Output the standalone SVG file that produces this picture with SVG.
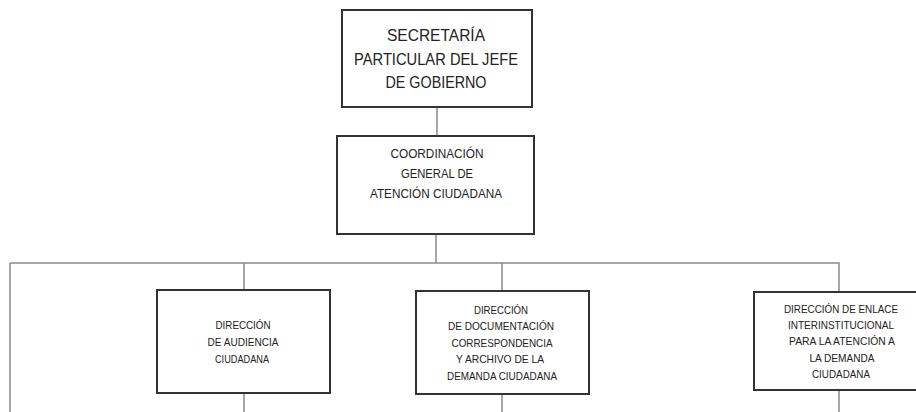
<svg xmlns="http://www.w3.org/2000/svg" width="916" height="412" viewBox="0 0 916 412">
<style>
.box{fill:#fff;stroke:#333;stroke-width:2}
.ln{fill:none;stroke:#8a8a8a;stroke-width:1.5}
text{font-family:"Liberation Sans",Arial,sans-serif;fill:#222;text-anchor:middle}
.t1{font-size:16px}
.t2{font-size:13px}
.t3{font-size:11px}
</style>
<rect width="916" height="412" fill="#fff"/>
<g id="connectors">
<path class="ln" d="M437 107V136M436 234V263M10 263H839V292M10 263V412M244 263V290M502 263V291M244 393V412M502 394V412M839 390V412"/>
</g>
<g id="n1">
<rect class="box" x="342" y="10" width="190" height="97"/>
<text class="t1" x="436" y="41" textLength="98" lengthAdjust="spacingAndGlyphs">SECRETARÍA</text>
<text class="t1" x="436" y="64.5" textLength="164" lengthAdjust="spacingAndGlyphs">PARTICULAR DEL JEFE</text>
<text class="t1" x="436" y="88" textLength="101" lengthAdjust="spacingAndGlyphs">DE GOBIERNO</text>
</g>
<g id="n2">
<rect class="box" x="337" y="136" width="197" height="98"/>
<text class="t2" x="437" y="158" textLength="93" lengthAdjust="spacingAndGlyphs">COORDINACIÓN</text>
<text class="t2" x="437" y="178" textLength="72" lengthAdjust="spacingAndGlyphs">GENERAL DE</text>
<text class="t2" x="436" y="198" textLength="132" lengthAdjust="spacingAndGlyphs">ATENCIÓN CIUDADANA</text>
</g>
<g id="n3">
<rect class="box" x="157" y="290" width="173" height="103"/>
<text class="t3" x="243" y="329" textLength="55" lengthAdjust="spacingAndGlyphs">DIRECCIÓN</text>
<text class="t3" x="243" y="346" textLength="71" lengthAdjust="spacingAndGlyphs">DE AUDIENCIA</text>
<text class="t3" x="242" y="363" textLength="54" lengthAdjust="spacingAndGlyphs">CIUDADANA</text>
</g>
<g id="n4">
<rect class="box" x="416" y="291" width="173" height="103"/>
<text class="t3" x="501" y="314" textLength="54" lengthAdjust="spacingAndGlyphs">DIRECCIÓN</text>
<text class="t3" x="501" y="330" textLength="106" lengthAdjust="spacingAndGlyphs">DE DOCUMENTACIÓN</text>
<text class="t3" x="502" y="346.5" textLength="101" lengthAdjust="spacingAndGlyphs">CORRESPONDENCIA</text>
<text class="t3" x="500" y="362.5" textLength="88" lengthAdjust="spacingAndGlyphs">Y ARCHIVO DE LA</text>
<text class="t3" x="502" y="379.5" textLength="110" lengthAdjust="spacingAndGlyphs">DEMANDA CIUDADANA</text>
</g>
<g id="n5">
<rect class="box" x="754" y="292" width="170" height="98"/>
<text class="t3" x="841" y="313" textLength="114" lengthAdjust="spacingAndGlyphs">DIRECCIÓN DE ENLACE</text>
<text class="t3" x="841" y="329" textLength="106" lengthAdjust="spacingAndGlyphs">INTERINSTITUCIONAL</text>
<text class="t3" x="842" y="345" textLength="106" lengthAdjust="spacingAndGlyphs">PARA LA ATENCIÓN A</text>
<text class="t3" x="842" y="361.5" textLength="65" lengthAdjust="spacingAndGlyphs">LA DEMANDA</text>
<text class="t3" x="841" y="378" textLength="58" lengthAdjust="spacingAndGlyphs">CIUDADANA</text>
</g>
</svg>
